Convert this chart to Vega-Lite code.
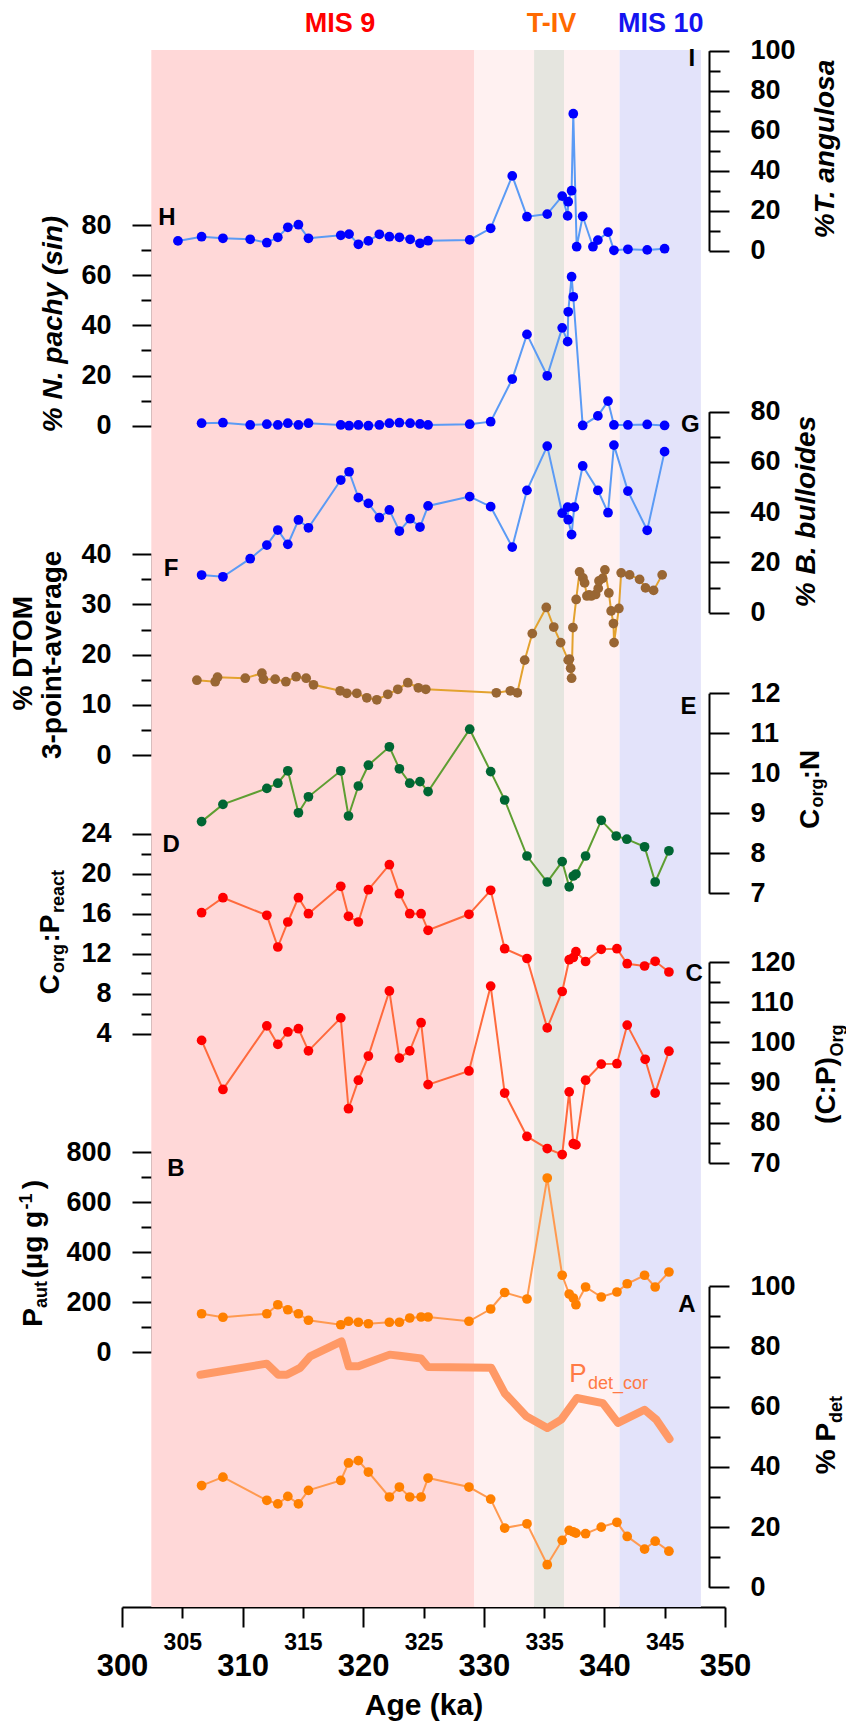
{
"$schema": "https://vega.github.io/schema/vega-lite/v6.json",
"width": 603, "height": 1557,
"autosize": {"type": "none"},
"padding": {"left": 122, "top": 50, "right": 121, "bottom": 115},
"background": "white",
"config": {
  "view": {"stroke": null},
  "font": "Liberation Sans",
  "axis": {"zindex": 1, "grid": false, "domainColor": "black", "domainWidth": 2, "tickColor": "black", "tickWidth": 2, "labelFont": "Liberation Sans", "labelFontWeight": "bold", "labelFontSize": 27, "labelColor": "black", "titleFont": "Liberation Sans", "titleColor": "black", "titleFontWeight": "bold", "labelOverlap": false, "labelFlush": false, "labelBound": false},
  "text": {"font": "Liberation Sans"}
},
"datasets": {
  "bands": [
    {"zone": "MIS9", "start": 302.43, "end": 329.19},
    {"zone": "TIVa", "start": 329.19, "end": 334.17},
    {"zone": "TIVgray", "start": 334.17, "end": 336.65},
    {"zone": "TIVb", "start": 336.65, "end": 341.26},
    {"zone": "MIS10", "start": 341.26, "end": 348.0}
  ],
  "angulosa": [
    {"age":304.64,"v":4.9},{"age":306.6,"v":7.0},{"age":308.37,"v":6.2},{"age":310.63,"v":5.7},{"age":312.01,"v":4.0},{"age":312.92,"v":6.7},{"age":313.75,"v":11.7},{"age":314.63,"v":13.0},{"age":315.46,"v":6.2},{"age":318.14,"v":7.7},{"age":318.83,"v":8.3},{"age":319.6,"v":3.2},{"age":320.43,"v":4.9},{"age":321.34,"v":8.2},{"age":322.17,"v":7.0},{"age":323.0,"v":6.7},{"age":323.89,"v":5.7},{"age":324.71,"v":3.7},{"age":325.38,"v":5.0},{"age":328.83,"v":5.4},{"age":330.57,"v":11.2},{"age":332.36,"v":37.4},{"age":333.58,"v":17.0},{"age":335.26,"v":18.3},{"age":336.5,"v":27.3},{"age":336.95,"v":17.4},{"age":337.0,"v":24.5},{"age":337.28,"v":30.0},{"age":337.42,"v":68.5},{"age":337.7,"v":2.0},{"age":338.2,"v":17.2},{"age":339.05,"v":2.0},{"age":339.46,"v":5.3},{"age":340.3,"v":9.3},{"age":340.79,"v":0.2},{"age":341.95,"v":0.7},{"age":343.55,"v":0.4},{"age":344.99,"v":1.0}
  ],
  "pachy": [
    {"age":306.6,"v":1.0},{"age":308.37,"v":1.2},{"age":310.63,"v":0.3},{"age":312.01,"v":0.6},{"age":312.92,"v":0.3},{"age":313.75,"v":1.0},{"age":314.63,"v":0.3},{"age":315.46,"v":1.0},{"age":318.14,"v":0.3},{"age":318.83,"v":0.0},{"age":319.6,"v":0.3},{"age":320.43,"v":0.0},{"age":321.34,"v":0.3},{"age":322.17,"v":1.0},{"age":323.0,"v":1.2},{"age":323.89,"v":1.0},{"age":324.71,"v":0.7},{"age":325.38,"v":0.3},{"age":328.83,"v":0.6},{"age":330.57,"v":1.6},{"age":332.36,"v":18.6},{"age":333.58,"v":36.4},{"age":335.26,"v":19.9},{"age":336.5,"v":39.0},{"age":336.95,"v":33.5},{"age":337.0,"v":45.4},{"age":337.28,"v":59.4},{"age":337.42,"v":51.4},{"age":338.2,"v":0.1},{"age":339.46,"v":3.9},{"age":340.3,"v":9.8},{"age":340.79,"v":0.3},{"age":341.95,"v":0.3},{"age":343.55,"v":0.5},{"age":344.99,"v":0.1}
  ],
  "bulloides": [
    {"age":306.6,"v":15.0},{"age":308.37,"v":14.3},{"age":310.63,"v":21.5},{"age":312.01,"v":26.9},{"age":312.92,"v":32.9},{"age":313.75,"v":27.2},{"age":314.63,"v":36.9},{"age":315.46,"v":33.8},{"age":318.14,"v":52.8},{"age":318.83,"v":56.1},{"age":319.6,"v":45.8},{"age":320.43,"v":43.5},{"age":321.34,"v":37.8},{"age":322.17,"v":40.9},{"age":323.0,"v":32.5},{"age":323.89,"v":37.4},{"age":324.71,"v":34.1},{"age":325.38,"v":42.5},{"age":328.83,"v":46.2},{"age":330.57,"v":42.2},{"age":332.36,"v":26.1},{"age":333.58,"v":48.7},{"age":335.26,"v":66.3},{"age":336.5,"v":39.6},{"age":336.95,"v":42.0},{"age":337.0,"v":37.0},{"age":337.28,"v":31.1},{"age":337.5,"v":42.0},{"age":338.2,"v":58.4},{"age":339.46,"v":48.7},{"age":340.3,"v":39.8},{"age":340.79,"v":66.7},{"age":341.95,"v":48.4},{"age":343.55,"v":32.8},{"age":344.99,"v":64.1}
  ],
  "dtom": [
    {"age":306.21,"v":14.9},{"age":307.73,"v":14.6},{"age":307.92,"v":15.5},{"age":310.22,"v":15.3},{"age":311.6,"v":16.3},{"age":311.73,"v":15.1},{"age":312.7,"v":15.1},{"age":313.59,"v":14.6},{"age":314.44,"v":15.6},{"age":315.27,"v":15.3},{"age":315.88,"v":14.0},{"age":318.09,"v":12.8},{"age":318.64,"v":12.3},{"age":319.47,"v":12.3},{"age":320.3,"v":11.4},{"age":321.13,"v":11.0},{"age":322.04,"v":12.1},{"age":322.87,"v":13.1},{"age":323.7,"v":14.4},{"age":324.57,"v":13.4},{"age":325.19,"v":13.1},{"age":331.04,"v":12.4},{"age":332.2,"v":12.8},{"age":332.78,"v":12.4},{"age":333.39,"v":18.9},{"age":334.02,"v":24.2},{"age":335.18,"v":29.4},{"age":335.8,"v":25.5},{"age":336.37,"v":22.4},{"age":337.0,"v":18.9},{"age":337.1,"v":19.1},{"age":337.2,"v":17.3},{"age":337.28,"v":15.3},{"age":337.39,"v":25.4},{"age":337.66,"v":31.0},{"age":337.94,"v":36.5},{"age":338.22,"v":35.3},{"age":338.36,"v":34.3},{"age":338.55,"v":31.7},{"age":338.74,"v":31.9},{"age":338.91,"v":31.7},{"age":339.27,"v":32.0},{"age":339.49,"v":33.2},{"age":339.55,"v":34.7},{"age":339.85,"v":35.2},{"age":340.04,"v":36.9},{"age":340.37,"v":32.3},{"age":340.56,"v":28.7},{"age":340.75,"v":26.2},{"age":340.8,"v":22.4},{"age":341.2,"v":29.2},{"age":341.39,"v":36.3},{"age":342.09,"v":35.9},{"age":342.92,"v":35.0},{"age":343.41,"v":33.3},{"age":344.08,"v":32.8},{"age":344.79,"v":35.9}
  ],
  "cn": [
    {"age":306.6,"v":8.79},{"age":308.37,"v":9.22},{"age":312.01,"v":9.62},{"age":312.92,"v":9.75},{"age":313.75,"v":10.06},{"age":314.63,"v":9.01},{"age":315.46,"v":9.41},{"age":318.14,"v":10.06},{"age":318.78,"v":8.93},{"age":319.6,"v":9.68},{"age":320.43,"v":10.2},{"age":322.17,"v":10.66},{"age":323.0,"v":10.11},{"age":323.86,"v":9.75},{"age":324.71,"v":9.79},{"age":325.38,"v":9.54},{"age":328.83,"v":11.1},{"age":330.57,"v":10.04},{"age":331.73,"v":9.33},{"age":333.58,"v":7.93},{"age":335.26,"v":7.28},{"age":336.5,"v":7.79},{"age":337.08,"v":7.16},{"age":337.42,"v":7.43},{"age":337.64,"v":7.48},{"age":338.44,"v":7.93},{"age":339.74,"v":8.82},{"age":340.98,"v":8.43},{"age":341.86,"v":8.35},{"age":343.33,"v":8.16},{"age":344.21,"v":7.28},{"age":345.35,"v":8.06}
  ],
  "cpreact": [
    {"age":306.6,"v":16.08},{"age":308.37,"v":17.58},{"age":312.01,"v":15.82},{"age":312.92,"v":12.65},{"age":313.75,"v":15.15},{"age":314.63,"v":17.58},{"age":315.46,"v":15.98},{"age":318.14,"v":18.72},{"age":318.78,"v":15.72},{"age":319.6,"v":15.15},{"age":320.43,"v":18.38},{"age":322.17,"v":20.88},{"age":323.0,"v":17.98},{"age":323.86,"v":15.98},{"age":324.8,"v":15.98},{"age":325.38,"v":14.32},{"age":328.77,"v":15.92},{"age":330.57,"v":18.32},{"age":331.73,"v":12.48},{"age":333.58,"v":11.5},{"age":335.26,"v":4.56},{"age":336.5,"v":8.2},{"age":337.08,"v":11.38},{"age":337.42,"v":11.6},{"age":337.64,"v":12.18},{"age":338.44,"v":11.2},{"age":339.74,"v":12.42},{"age":341.04,"v":12.48},{"age":341.89,"v":10.98},{"age":343.33,"v":10.75},{"age":344.21,"v":11.22},{"age":345.35,"v":10.15}
  ],
  "cporg": [
    {"age":306.6,"v":100.5},{"age":308.37,"v":88.3},{"age":312.01,"v":104.1},{"age":312.92,"v":99.5},{"age":313.75,"v":102.6},{"age":314.63,"v":103.4},{"age":315.46,"v":97.9},{"age":318.14,"v":106.1},{"age":318.78,"v":83.5},{"age":319.6,"v":90.6},{"age":320.43,"v":96.6},{"age":322.17,"v":112.8},{"age":323.0,"v":96.1},{"age":323.86,"v":97.9},{"age":324.8,"v":104.9},{"age":325.38,"v":89.5},{"age":328.77,"v":92.9},{"age":330.57,"v":114.0},{"age":331.73,"v":87.4},{"age":333.58,"v":76.6},{"age":335.26,"v":73.6},{"age":336.5,"v":72.1},{"age":337.08,"v":87.7},{"age":337.42,"v":74.8},{"age":337.64,"v":74.5},{"age":338.44,"v":90.6},{"age":339.74,"v":94.6},{"age":341.04,"v":94.7},{"age":341.89,"v":104.3},{"age":343.38,"v":95.8},{"age":344.21,"v":87.4},{"age":345.35,"v":97.8}
  ],
  "paut": [
    {"age":306.6,"v":153},{"age":308.37,"v":139},{"age":312.01,"v":153},{"age":312.92,"v":189},{"age":313.75,"v":169},{"age":314.63,"v":153},{"age":315.46,"v":127},{"age":318.14,"v":109},{"age":318.78,"v":123},{"age":319.6,"v":119},{"age":320.43,"v":113},{"age":322.17,"v":119},{"age":323.0,"v":119},{"age":323.86,"v":136},{"age":324.8,"v":140},{"age":325.38,"v":140},{"age":328.77,"v":123},{"age":330.57,"v":172},{"age":331.73,"v":238},{"age":333.58,"v":212},{"age":335.26,"v":696},{"age":336.5,"v":307},{"age":337.08,"v":232},{"age":337.42,"v":216},{"age":337.64,"v":189},{"age":338.44,"v":260},{"age":339.74,"v":220},{"age":341.04,"v":240},{"age":341.89,"v":273},{"age":343.33,"v":307},{"age":344.21,"v":260},{"age":345.35,"v":320}
  ],
  "pdet": [
    {"age":306.6,"v":33.8},{"age":308.37,"v":36.6},{"age":312.01,"v":28.9},{"age":312.92,"v":27.7},{"age":313.75,"v":30.2},{"age":314.63,"v":27.7},{"age":315.46,"v":32.2},{"age":318.14,"v":35.5},{"age":318.78,"v":41.3},{"age":319.6,"v":42.1},{"age":320.43,"v":38.3},{"age":322.17,"v":30.0},{"age":323.0,"v":33.3},{"age":323.86,"v":30.0},{"age":324.8,"v":30.0},{"age":325.38,"v":36.3},{"age":328.77,"v":33.3},{"age":330.57,"v":29.3},{"age":331.73,"v":19.7},{"age":333.58,"v":21.1},{"age":335.26,"v":7.5},{"age":336.5,"v":15.6},{"age":337.08,"v":18.9},{"age":337.42,"v":18.4},{"age":337.64,"v":18.0},{"age":338.44,"v":17.8},{"age":339.74,"v":20.0},{"age":341.04,"v":21.6},{"age":341.89,"v":16.9},{"age":343.33,"v":12.7},{"age":344.21,"v":15.3},{"age":345.35,"v":12.0}
  ],
  "pdetcor": [
    {"age":306.5,"v":70.6},{"age":312.0,"v":74.3},{"age":312.97,"v":70.6},{"age":313.66,"v":70.6},{"age":314.77,"v":72.9},{"age":315.6,"v":76.7},{"age":318.2,"v":81.7},{"age":318.8,"v":73.4},{"age":319.6,"v":73.4},{"age":322.2,"v":77.3},{"age":323.0,"v":76.9},{"age":324.8,"v":76.0},{"age":325.38,"v":73.2},{"age":330.62,"v":72.9},{"age":331.73,"v":64.5},{"age":333.52,"v":56.8},{"age":335.26,"v":52.9},{"age":336.42,"v":55.7},{"age":337.72,"v":62.9},{"age":339.87,"v":61.2},{"age":341.12,"v":54.6},{"age":343.33,"v":59.0},{"age":344.3,"v":55.7},{"age":345.4,"v":49.3}
  ]
},
"layer": [
  {
    "data": {"name": "bands"},
    "mark": {"type": "rect", "opacity": 1},
    "encoding": {
      "x": {"field": "start", "type": "quantitative", "scale": {"domain": [300, 350], "nice": false, "zero": false},
        "axis": {"orient": "top", "values": [318.04, 335.57, 344.64], "labelExpr": "datum.value < 330 ? 'MIS 9' : (datum.value < 340 ? 'T-IV' : 'MIS 10')", "labelColor": {"condition": [{"test": "datum.value < 330", "value": "#FF0000"}, {"test": "datum.value < 340", "value": "#FF6A00"}], "value": "#1414F0"}, "labelFontSize": 27, "labelPadding": 27, "labelBaseline": "middle", "labelAlign": "center", "ticks": false, "domain": false, "title": null}},
      "x2": {"field": "end"},
      "color": {"field": "zone", "type": "nominal", "legend": null, "scale": {"domain": ["MIS9", "TIVa", "TIVgray", "TIVb", "MIS10"], "range": ["#FFD8D8", "#FFF1F1", "#E5E5DF", "#FFF1F1", "#E3E3FA"]}}
    }
  },
  {
    "data": {"name": "angulosa"},
    "layer": [
      {"mark": {"type": "line", "color": "#5B9BF5", "strokeWidth": 2},
       "encoding": {
         "x": {"field": "age", "type": "quantitative", "scale": {"domain": [300, 350], "nice": false, "zero": false},
           "axis": {"orient": "bottom", "values": [300,305,310,315,320,325,330,335,340,345,350], "format": "d",
             "labelFontSize": {"condition": {"test": "datum.value % 10 === 0", "value": 31}, "value": 23},
             "tickSize": {"condition": {"test": "datum.value % 10 === 0", "value": 20}, "value": 11},
             "labelPadding": {"condition": {"test": "datum.value % 10 === 0", "value": 39}, "value": 24},
             "labelBaseline": "middle", "labelAlign": "center",
             "title": "Age (ka)", "titleFontSize": 30, "titleAngle": 0, "titleX": 301.5, "titleY": 98, "titleBaseline": "middle", "titleAlign": "center"}},
         "y": {"field": "v", "type": "quantitative", "scale": {"domain": [0, 100], "range": [200.7, 0.7], "nice": false, "zero": false},
           "axis": {"orient": "right", "offset": -16, "values": [0,10,20,30,40,50,60,70,80,90,100], "format": "d", "labelExpr": "datum.value % 20 === 0 ? datum.label : ''", "tickSize": {"condition": {"test": "datum.value % 20 === 0", "value": 20}, "value": 11}, "labelPadding": 21,
             "title": "%T. angulosa", "titleFontSize": 28, "titleFontStyle": "italic", "titleAngle": 270, "titleX": 116.5, "titleY": 98.5, "titleAlign": "center", "titleBaseline": "middle"}}
       }},
      {"mark": {"type": "circle", "color": "#0000FF", "size": 95, "opacity": 1},
       "encoding": {
         "x": {"field": "age", "type": "quantitative", "scale": {"domain": [300, 350], "nice": false, "zero": false}, "axis": null},
         "y": {"field": "v", "type": "quantitative", "scale": {"domain": [0, 100], "range": [200.7, 0.7], "nice": false, "zero": false}, "axis": null}}},
      {"data": {"values": [{"t": "I", "age": 347.25, "v": 95.85}]},
       "mark": {"type": "text", "fontSize": 24, "fontWeight": "bold", "color": "black", "align": "center", "baseline": "middle"},
       "encoding": {
         "x": {"field": "age", "type": "quantitative", "scale": {"domain": [300, 350], "nice": false, "zero": false}, "axis": null},
         "y": {"field": "v", "type": "quantitative", "scale": {"domain": [0, 100], "range": [200.7, 0.7], "nice": false, "zero": false}, "axis": null},
         "text": {"field": "t"}}}
    ],
    "resolve": {"axis": {"x": "independent", "y": "independent"}}
  },
  {
    "data": {"name": "pachy"},
    "layer": [
      {"mark": {"type": "line", "color": "#5B9BF5", "strokeWidth": 2},
       "encoding": {
         "x": {"field": "age", "type": "quantitative", "scale": {"domain": [300, 350], "nice": false, "zero": false}, "axis": null},
         "y": {"field": "v", "type": "quantitative", "scale": {"domain": [0, 80], "range": [375.7, 175], "nice": false, "zero": false},
           "axis": {"orient": "left", "offset": -30, "values": [0,10,20,30,40,50,60,70,80], "format": "d", "labelExpr": "datum.value % 20 === 0 ? datum.label : ''", "tickSize": {"condition": {"test": "datum.value % 20 === 0", "value": 20}, "value": 11}, "labelPadding": 21,
             "title": "% N. pachy (sin)", "titleFontSize": 28, "titleFontStyle": "italic", "titleAngle": 270, "titleX": -98.7, "titleY": 273.5, "titleAlign": "center", "titleBaseline": "middle"}}
       }},
      {"mark": {"type": "circle", "color": "#0000FF", "size": 95, "opacity": 1},
       "encoding": {
         "x": {"field": "age", "type": "quantitative", "scale": {"domain": [300, 350], "nice": false, "zero": false}, "axis": null},
         "y": {"field": "v", "type": "quantitative", "scale": {"domain": [0, 80], "range": [375.7, 175], "nice": false, "zero": false}, "axis": null}}},
      {"data": {"values": [{"t": "H", "age": 303.73, "v": 82.7}]},
       "mark": {"type": "text", "fontSize": 24, "fontWeight": "bold", "color": "black", "align": "center", "baseline": "middle"},
       "encoding": {
         "x": {"field": "age", "type": "quantitative", "scale": {"domain": [300, 350], "nice": false, "zero": false}, "axis": null},
         "y": {"field": "v", "type": "quantitative", "scale": {"domain": [0, 80], "range": [375.7, 175], "nice": false, "zero": false}, "axis": null},
         "text": {"field": "t"}}}
    ],
    "resolve": {"axis": {"x": "independent", "y": "independent"}}
  },
  {
    "data": {"name": "bulloides"},
    "layer": [
      {"mark": {"type": "line", "color": "#5B9BF5", "strokeWidth": 2},
       "encoding": {
         "x": {"field": "age", "type": "quantitative", "scale": {"domain": [300, 350], "nice": false, "zero": false}, "axis": null},
         "y": {"field": "v", "type": "quantitative", "scale": {"domain": [0, 80], "range": [562.7, 361.7], "nice": false, "zero": false},
           "axis": {"orient": "right", "offset": -16, "values": [0,10,20,30,40,50,60,70,80], "format": "d", "labelExpr": "datum.value % 20 === 0 ? datum.label : ''", "tickSize": {"condition": {"test": "datum.value % 20 === 0", "value": 20}, "value": 11}, "labelPadding": 21,
             "title": "% B. bulloides", "titleFontSize": 28, "titleFontStyle": "italic", "titleAngle": 270, "titleX": 97, "titleY": 461, "titleAlign": "center", "titleBaseline": "middle"}}
       }},
      {"mark": {"type": "circle", "color": "#0000FF", "size": 95, "opacity": 1},
       "encoding": {
         "x": {"field": "age", "type": "quantitative", "scale": {"domain": [300, 350], "nice": false, "zero": false}, "axis": null},
         "y": {"field": "v", "type": "quantitative", "scale": {"domain": [0, 80], "range": [562.7, 361.7], "nice": false, "zero": false}, "axis": null}}},
      {"data": {"values": [{"t": "G", "age": 347.12, "v": 74.7}]},
       "mark": {"type": "text", "fontSize": 24, "fontWeight": "bold", "color": "black", "align": "center", "baseline": "middle"},
       "encoding": {
         "x": {"field": "age", "type": "quantitative", "scale": {"domain": [300, 350], "nice": false, "zero": false}, "axis": null},
         "y": {"field": "v", "type": "quantitative", "scale": {"domain": [0, 80], "range": [562.7, 361.7], "nice": false, "zero": false}, "axis": null},
         "text": {"field": "t"}}}
    ],
    "resolve": {"axis": {"x": "independent", "y": "independent"}}
  },
  {
    "data": {"name": "dtom"},
    "layer": [
      {"mark": {"type": "line", "color": "#E3A22E", "strokeWidth": 2},
       "encoding": {
         "x": {"field": "age", "type": "quantitative", "scale": {"domain": [300, 350], "nice": false, "zero": false}, "axis": null},
         "y": {"field": "v", "type": "quantitative", "scale": {"domain": [0, 40], "range": [705, 504.3], "nice": false, "zero": false},
           "axis": {"orient": "left", "offset": -30, "values": [0,5,10,15,20,25,30,35,40], "format": "d", "labelExpr": "datum.value % 10 === 0 ? datum.label : ''", "tickSize": {"condition": {"test": "datum.value % 10 === 0", "value": 20}, "value": 11}, "labelPadding": 21,
             "title": "% DTOM", "titleFontSize": 28, "titleAngle": 270, "titleX": -128.7, "titleY": 602.7, "titleAlign": "center", "titleBaseline": "middle"}}
       }},
      {"mark": {"type": "circle", "color": "#996633", "size": 95, "opacity": 1},
       "encoding": {
         "x": {"field": "age", "type": "quantitative", "scale": {"domain": [300, 350], "nice": false, "zero": false}, "axis": null},
         "y": {"field": "v", "type": "quantitative", "scale": {"domain": [0, 40], "range": [705, 504.3], "nice": false, "zero": false},
           "axis": {"orient": "left", "offset": -30, "domain": false, "ticks": false, "labels": false, "title": "3-point-average", "titleFontSize": 28, "titleAngle": 270, "titleX": -99.5, "titleY": 604.3, "titleAlign": "center", "titleBaseline": "middle"}}}},
      {"data": {"values": [{"t": "F", "age": 304.07, "v": 37.0}]},
       "mark": {"type": "text", "fontSize": 24, "fontWeight": "bold", "color": "black", "align": "center", "baseline": "middle"},
       "encoding": {
         "x": {"field": "age", "type": "quantitative", "scale": {"domain": [300, 350], "nice": false, "zero": false}, "axis": null},
         "y": {"field": "v", "type": "quantitative", "scale": {"domain": [0, 40], "range": [705, 504.3], "nice": false, "zero": false}, "axis": null},
         "text": {"field": "t"}}}
    ],
    "resolve": {"axis": {"x": "independent", "y": "independent"}}
  },
  {
    "data": {"name": "cn"},
    "layer": [
      {"mark": {"type": "line", "color": "#5E9E32", "strokeWidth": 2},
       "encoding": {
         "x": {"field": "age", "type": "quantitative", "scale": {"domain": [300, 350], "nice": false, "zero": false}, "axis": null},
         "y": {"field": "v", "type": "quantitative", "scale": {"domain": [7, 12], "range": [843.2, 643.2], "nice": false, "zero": false},
           "axis": {"orient": "right", "offset": -16, "values": [7,7.5,8,8.5,9,9.5,10,10.5,11,11.5,12], "format": "d", "labelExpr": "datum.value % 1 === 0 ? datum.label : ''", "tickSize": {"condition": {"test": "datum.value % 1 === 0", "value": 20}, "value": 11}, "labelPadding": 21,
             "title": "C", "titleFontSize": 28, "titleAngle": 270, "titleX": 109, "titleY": 768.5, "titleAlign": "center", "titleBaseline": "alphabetic"}}
       }},
      {"mark": {"type": "circle", "color": "#006633", "size": 95, "opacity": 1},
       "encoding": {
         "x": {"field": "age", "type": "quantitative", "scale": {"domain": [300, 350], "nice": false, "zero": false}, "axis": null},
         "y": {"field": "v", "type": "quantitative", "scale": {"domain": [7, 12], "range": [843.2, 643.2], "nice": false, "zero": false},
           "axis": {"orient": "right", "offset": -16, "domain": false, "ticks": false, "labels": false, "title": "org", "titleFontSize": 18, "titleAngle": 270, "titleX": 113.5, "titleY": 742.5, "titleAlign": "center", "titleBaseline": "alphabetic"}}}},
      {"data": {"values": [{"t": "E", "age": 346.98, "v": 11.66}]},
       "mark": {"type": "text", "fontSize": 24, "fontWeight": "bold", "color": "black", "align": "center", "baseline": "middle"},
       "encoding": {
         "x": {"field": "age", "type": "quantitative", "scale": {"domain": [300, 350], "nice": false, "zero": false}, "axis": null},
         "y": {"field": "v", "type": "quantitative", "scale": {"domain": [7, 12], "range": [843.2, 643.2], "nice": false, "zero": false},
           "axis": {"orient": "right", "offset": -16, "domain": false, "ticks": false, "labels": false, "title": ":N", "titleFontSize": 28, "titleAngle": 270, "titleX": 109, "titleY": 714, "titleAlign": "center", "titleBaseline": "alphabetic"}},
         "text": {"field": "t"}}}
    ],
    "resolve": {"axis": {"x": "independent", "y": "independent"}}
  },
  {
    "data": {"name": "cpreact"},
    "layer": [
      {"mark": {"type": "line", "color": "#FF6A3D", "strokeWidth": 2},
       "encoding": {
         "x": {"field": "age", "type": "quantitative", "scale": {"domain": [300, 350], "nice": false, "zero": false}, "axis": null},
         "y": {"field": "v", "type": "quantitative", "scale": {"domain": [4, 24], "range": [983.5, 783.5], "nice": false, "zero": false},
           "axis": {"orient": "left", "offset": -30, "values": [4,6,8,10,12,14,16,18,20,22,24], "format": "d", "labelExpr": "datum.value % 4 === 0 ? datum.label : ''", "tickSize": {"condition": {"test": "datum.value % 4 === 0", "value": 20}, "value": 11}, "labelPadding": 21,
             "title": "C", "titleFontSize": 28, "titleAngle": 270, "titleX": -93.7, "titleY": 934, "titleAlign": "center", "titleBaseline": "alphabetic"}}
       }},
      {"mark": {"type": "circle", "color": "#FF0000", "size": 95, "opacity": 1},
       "encoding": {
         "x": {"field": "age", "type": "quantitative", "scale": {"domain": [300, 350], "nice": false, "zero": false}, "axis": null},
         "y": {"field": "v", "type": "quantitative", "scale": {"domain": [4, 24], "range": [983.5, 783.5], "nice": false, "zero": false},
           "axis": {"orient": "left", "offset": -30, "domain": false, "ticks": false, "labels": false, "title": "org", "titleFontSize": 18, "titleAngle": 270, "titleX": -89, "titleY": 908, "titleAlign": "center", "titleBaseline": "alphabetic"}}}},
      {"mark": {"type": "circle", "opacity": 0},
       "encoding": {
         "x": {"field": "age", "type": "quantitative", "scale": {"domain": [300, 350], "nice": false, "zero": false}, "axis": null},
         "y": {"field": "v", "type": "quantitative", "scale": {"domain": [4, 24], "range": [983.5, 783.5], "nice": false, "zero": false},
           "axis": {"orient": "left", "offset": -30, "domain": false, "ticks": false, "labels": false, "title": "react", "titleFontSize": 18, "titleAngle": 270, "titleX": -89, "titleY": 841, "titleAlign": "center", "titleBaseline": "alphabetic"}}}},
      {"data": {"values": [{"t": "D", "age": 304.07, "v": 22.83}]},
       "mark": {"type": "text", "fontSize": 24, "fontWeight": "bold", "color": "black", "align": "center", "baseline": "middle"},
       "encoding": {
         "x": {"field": "age", "type": "quantitative", "scale": {"domain": [300, 350], "nice": false, "zero": false}, "axis": null},
         "y": {"field": "v", "type": "quantitative", "scale": {"domain": [4, 24], "range": [983.5, 783.5], "nice": false, "zero": false},
           "axis": {"orient": "left", "offset": -30, "domain": false, "ticks": false, "labels": false, "title": ":P", "titleFontSize": 28, "titleAngle": 270, "titleX": -93.7, "titleY": 878, "titleAlign": "center", "titleBaseline": "alphabetic"}},
         "text": {"field": "t"}}}
    ],
    "resolve": {"axis": {"x": "independent", "y": "independent"}}
  },
  {
    "data": {"name": "cporg"},
    "layer": [
      {"mark": {"type": "line", "color": "#FF6A3D", "strokeWidth": 2},
       "encoding": {
         "x": {"field": "age", "type": "quantitative", "scale": {"domain": [300, 350], "nice": false, "zero": false}, "axis": null},
         "y": {"field": "v", "type": "quantitative", "scale": {"domain": [70, 120], "range": [1113, 912], "nice": false, "zero": false},
           "axis": {"orient": "right", "offset": -16, "values": [70,75,80,85,90,95,100,105,110,115,120], "format": "d", "labelExpr": "datum.value % 10 === 0 ? datum.label : ''", "tickSize": {"condition": {"test": "datum.value % 10 === 0", "value": 20}, "value": 11}, "labelPadding": 21,
             "title": "(C:P)", "titleFontSize": 28, "titleAngle": 270, "titleX": 125, "titleY": 1040, "titleAlign": "center", "titleBaseline": "alphabetic"}}
       }},
      {"mark": {"type": "circle", "color": "#FF0000", "size": 95, "opacity": 1},
       "encoding": {
         "x": {"field": "age", "type": "quantitative", "scale": {"domain": [300, 350], "nice": false, "zero": false}, "axis": null},
         "y": {"field": "v", "type": "quantitative", "scale": {"domain": [70, 120], "range": [1113, 912], "nice": false, "zero": false},
           "axis": {"orient": "right", "offset": -16, "domain": false, "ticks": false, "labels": false, "title": "Org", "titleFontSize": 18, "titleAngle": 270, "titleX": 133, "titleY": 990, "titleAlign": "center", "titleBaseline": "alphabetic"}}}},
      {"data": {"values": [{"t": "C", "age": 347.44, "v": 117.1}]},
       "mark": {"type": "text", "fontSize": 24, "fontWeight": "bold", "color": "black", "align": "center", "baseline": "middle"},
       "encoding": {
         "x": {"field": "age", "type": "quantitative", "scale": {"domain": [300, 350], "nice": false, "zero": false}, "axis": null},
         "y": {"field": "v", "type": "quantitative", "scale": {"domain": [70, 120], "range": [1113, 912], "nice": false, "zero": false}, "axis": null},
         "text": {"field": "t"}}}
    ],
    "resolve": {"axis": {"x": "independent", "y": "independent"}}
  },
  {
    "data": {"name": "paut"},
    "layer": [
      {"mark": {"type": "line", "color": "#FF9A50", "strokeWidth": 2},
       "encoding": {
         "x": {"field": "age", "type": "quantitative", "scale": {"domain": [300, 350], "nice": false, "zero": false}, "axis": null},
         "y": {"field": "v", "type": "quantitative", "scale": {"domain": [0, 800], "range": [1302, 1102], "nice": false, "zero": false},
           "axis": {"orient": "left", "offset": -30, "values": [0,100,200,300,400,500,600,700,800], "format": "d", "labelExpr": "datum.value % 200 === 0 ? datum.label : ''", "tickSize": {"condition": {"test": "datum.value % 200 === 0", "value": 20}, "value": 11}, "labelPadding": 21,
             "title": "P", "titleFontSize": 28, "titleAngle": 270, "titleX": -110.3, "titleY": 1267, "titleAlign": "center", "titleBaseline": "alphabetic"}}
       }},
      {"mark": {"type": "circle", "color": "#FF8000", "size": 95, "opacity": 1},
       "encoding": {
         "x": {"field": "age", "type": "quantitative", "scale": {"domain": [300, 350], "nice": false, "zero": false}, "axis": null},
         "y": {"field": "v", "type": "quantitative", "scale": {"domain": [0, 800], "range": [1302, 1102], "nice": false, "zero": false},
           "axis": {"orient": "left", "offset": -30, "domain": false, "ticks": false, "labels": false, "title": "aut", "titleFontSize": 18, "titleAngle": 270, "titleX": -106, "titleY": 1244, "titleAlign": "center", "titleBaseline": "alphabetic"}}}},
      {"mark": {"type": "circle", "opacity": 0},
       "encoding": {
         "x": {"field": "age", "type": "quantitative", "scale": {"domain": [300, 350], "nice": false, "zero": false}, "axis": null},
         "y": {"field": "v", "type": "quantitative", "scale": {"domain": [0, 800], "range": [1302, 1102], "nice": false, "zero": false},
           "axis": {"orient": "left", "offset": -30, "domain": false, "ticks": false, "labels": false, "title": "-1", "titleFontSize": 18, "titleAngle": 270, "titleX": -120.3, "titleY": 1151, "titleAlign": "center", "titleBaseline": "alphabetic"}}}},
      {"mark": {"type": "circle", "opacity": 0},
       "encoding": {
         "x": {"field": "age", "type": "quantitative", "scale": {"domain": [300, 350], "nice": false, "zero": false}, "axis": null},
         "y": {"field": "v", "type": "quantitative", "scale": {"domain": [0, 800], "range": [1302, 1102], "nice": false, "zero": false},
           "axis": {"orient": "left", "offset": -30, "domain": false, "ticks": false, "labels": false, "title": ")", "titleFontSize": 28, "titleAngle": 270, "titleX": -110.3, "titleY": 1134, "titleAlign": "center", "titleBaseline": "alphabetic"}}}},
      {"data": {"values": [{"t": "B", "age": 304.48, "v": 733}]},
       "mark": {"type": "text", "fontSize": 24, "fontWeight": "bold", "color": "black", "align": "center", "baseline": "middle"},
       "encoding": {
         "x": {"field": "age", "type": "quantitative", "scale": {"domain": [300, 350], "nice": false, "zero": false}, "axis": null},
         "y": {"field": "v", "type": "quantitative", "scale": {"domain": [0, 800], "range": [1302, 1102], "nice": false, "zero": false},
           "axis": {"orient": "left", "offset": -30, "domain": false, "ticks": false, "labels": false, "title": "(µg g", "titleFontSize": 28, "titleAngle": 270, "titleX": -110.3, "titleY": 1194, "titleAlign": "center", "titleBaseline": "alphabetic"}},
         "text": {"field": "t"}}}
    ],
    "resolve": {"axis": {"x": "independent", "y": "independent"}}
  },
  {
    "data": {"name": "pdet"},
    "layer": [
      {"mark": {"type": "line", "color": "#FF9A50", "strokeWidth": 2},
       "encoding": {
         "x": {"field": "age", "type": "quantitative", "scale": {"domain": [300, 350], "nice": false, "zero": false}, "axis": null},
         "y": {"field": "v", "type": "quantitative", "scale": {"domain": [0, 100], "range": [1537.3, 1236.3], "nice": false, "zero": false},
           "axis": {"orient": "right", "offset": -16, "values": [0,10,20,30,40,50,60,70,80,90,100], "format": "d", "labelExpr": "datum.value % 20 === 0 ? datum.label : ''", "tickSize": {"condition": {"test": "datum.value % 20 === 0", "value": 20}, "value": 11}, "labelPadding": 21,
             "title": "% P", "titleFontSize": 28, "titleAngle": 270, "titleX": 125.7, "titleY": 1398, "titleAlign": "center", "titleBaseline": "alphabetic"}}
       }},
      {"mark": {"type": "circle", "color": "#FF8000", "size": 95, "opacity": 1},
       "encoding": {
         "x": {"field": "age", "type": "quantitative", "scale": {"domain": [300, 350], "nice": false, "zero": false}, "axis": null},
         "y": {"field": "v", "type": "quantitative", "scale": {"domain": [0, 100], "range": [1537.3, 1236.3], "nice": false, "zero": false},
           "axis": {"orient": "right", "offset": -16, "domain": false, "ticks": false, "labels": false, "title": "det", "titleFontSize": 18, "titleAngle": 270, "titleX": 132, "titleY": 1359, "titleAlign": "center", "titleBaseline": "alphabetic"}}}},
      {"data": {"name": "pdetcor"},
       "mark": {"type": "line", "color": "#FF9966", "strokeWidth": 8, "strokeCap": "round", "strokeJoin": "round"},
       "encoding": {
         "x": {"field": "age", "type": "quantitative", "scale": {"domain": [300, 350], "nice": false, "zero": false}, "axis": null},
         "y": {"field": "v", "type": "quantitative", "scale": {"domain": [0, 100], "range": [1537.3, 1236.3], "nice": false, "zero": false}, "axis": null}}},
      {"data": {"values": [{"t": "A", "age": 346.85, "v": 93.9}]},
       "mark": {"type": "text", "fontSize": 24, "fontWeight": "bold", "color": "black", "align": "center", "baseline": "middle"},
       "encoding": {
         "x": {"field": "age", "type": "quantitative", "scale": {"domain": [300, 350], "nice": false, "zero": false}, "axis": null},
         "y": {"field": "v", "type": "quantitative", "scale": {"domain": [0, 100], "range": [1537.3, 1236.3], "nice": false, "zero": false}, "axis": null},
         "text": {"field": "t"}}},
      {"data": {"values": [{"t": "P", "age": 337.8, "v": 70.9}]},
       "mark": {"type": "text", "fontSize": 26, "color": "#FF7A45", "align": "center", "baseline": "middle"},
       "encoding": {
         "x": {"field": "age", "type": "quantitative", "scale": {"domain": [300, 350], "nice": false, "zero": false}, "axis": null},
         "y": {"field": "v", "type": "quantitative", "scale": {"domain": [0, 100], "range": [1537.3, 1236.3], "nice": false, "zero": false}, "axis": null},
         "text": {"field": "t"}}},
      {"data": {"values": [{"t": "det_cor", "age": 338.63, "v": 65.9}]},
       "mark": {"type": "text", "fontSize": 18, "color": "#FF7A45", "align": "left", "baseline": "alphabetic"},
       "encoding": {
         "x": {"field": "age", "type": "quantitative", "scale": {"domain": [300, 350], "nice": false, "zero": false}, "axis": null},
         "y": {"field": "v", "type": "quantitative", "scale": {"domain": [0, 100], "range": [1537.3, 1236.3], "nice": false, "zero": false}, "axis": null},
         "text": {"field": "t"}}}
    ],
    "resolve": {"axis": {"x": "independent", "y": "independent"}}
  }
],
"resolve": {"scale": {"y": "independent"}, "axis": {"x": "independent", "y": "independent"}}
}
